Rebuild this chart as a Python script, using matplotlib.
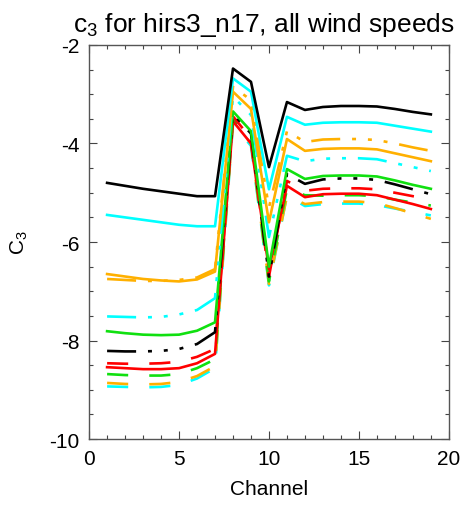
import matplotlib
matplotlib.use("Agg")
import matplotlib.pyplot as plt
from matplotlib.ticker import MultipleLocator

plt.rcParams['font.family'] = ['Liberation Sans', 'DejaVu Sans']
plt.rcParams['mathtext.default'] = 'regular'
plt.rcParams['axes.unicode_minus'] = False

channels = list(range(1, 20))

black_solid = [-4.80, -4.86, -4.92, -4.97, -5.02, -5.07, -5.07, -2.48, -2.75, -4.48,
               -3.16, -3.32, -3.26, -3.24, -3.24, -3.25, -3.30, -3.36, -3.41]
cyan_solid = [-5.45, -5.50, -5.55, -5.60, -5.65, -5.68, -5.68, -2.68, -2.95, -4.93,
              -3.46, -3.62, -3.58, -3.57, -3.57, -3.58, -3.64, -3.70, -3.76]
orange_dashdot = [-6.75, -6.77, -6.79, -6.79, -6.77, -6.72, -6.55, -2.85, -3.12, -5.30,
                  -3.75, -3.97, -3.92, -3.91, -3.91, -3.93, -4.00, -4.08, -4.15]
orange_solid = [-6.65, -6.70, -6.75, -6.78, -6.80, -6.76, -6.60, -2.95, -3.30, -5.60,
                -3.91, -4.15, -4.11, -4.10, -4.10, -4.12, -4.20, -4.28, -4.36]
cyan_dashdot = [-7.51, -7.52, -7.53, -7.52, -7.47, -7.38, -7.14, -3.05, -3.42, -5.90,
                -4.25, -4.36, -4.31, -4.30, -4.30, -4.32, -4.40, -4.48, -4.56]
green_solid = [-7.81, -7.85, -7.88, -7.89, -7.88, -7.80, -7.63, -3.35, -3.75, -6.50,
               -4.52, -4.72, -4.66, -4.65, -4.65, -4.67, -4.75, -4.84, -4.92]
black_dashdot = [-8.21, -8.22, -8.22, -8.21, -8.17, -8.07, -7.83, -3.40, -3.80, -6.70,
                 -4.62, -4.82, -4.73, -4.71, -4.71, -4.74, -4.83, -4.93, -5.03]
red_dashed = [-8.46, -8.47, -8.47, -8.46, -8.43, -8.33, -8.17, -3.45, -3.90, -6.70,
              -4.76, -4.96, -4.92, -4.91, -4.91, -4.93, -5.00, -5.07, -5.13]
red_solid = [-8.54, -8.56, -8.58, -8.58, -8.56, -8.46, -8.27, -3.55, -4.00, -6.55,
             -4.86, -5.09, -5.03, -5.02, -5.02, -5.05, -5.14, -5.23, -5.33]
green_dashed = [-8.68, -8.70, -8.71, -8.71, -8.68, -8.56, -8.38, -3.50, -3.95, -6.80,
                -4.92, -5.05, -5.06, -5.05, -5.05, -5.07, -5.14, -5.20, -5.26]
orange_dashed = [-8.86, -8.88, -8.89, -8.88, -8.84, -8.72, -8.52, -3.55, -4.00, -6.85,
                 -5.06, -5.23, -5.19, -5.18, -5.18, -5.21, -5.31, -5.42, -5.53]
cyan_dashed = [-8.93, -8.94, -8.95, -8.94, -8.90, -8.77, -8.56, -3.60, -4.05, -6.88,
               -5.06, -5.27, -5.23, -5.22, -5.22, -5.25, -5.32, -5.39, -5.46]

BLACK = 'black'
CYAN = '#00ffff'
ORANGE = '#ffb000'
GREEN = '#10e010'
RED = '#ff0000'

solid = '-'
dashdot3 = (0, (11, 4.5, 1.5, 4.5, 1.5, 4.5, 1.5, 4.5))
dashed = (0, (8, 8))

series = [
    (cyan_dashed, CYAN, dashed),
    (orange_dashed, ORANGE, dashed),
    (green_dashed, GREEN, dashed),
    (red_solid, RED, solid),
    (red_dashed, RED, dashed),
    (black_dashdot, BLACK, dashdot3),
    (green_solid, GREEN, solid),
    (cyan_dashdot, CYAN, dashdot3),
    (orange_solid, ORANGE, solid),
    (orange_dashdot, ORANGE, dashdot3),
    (cyan_solid, CYAN, solid),
    (black_solid, BLACK, solid),
]

fig = plt.figure(figsize=(4.69, 5.10), dpi=100)
ax = fig.add_axes([0.19, 0.137, 0.767, 0.773])

for vals, col, ls in series:
    ax.plot(channels, vals, color=col, linestyle=ls, linewidth=1.9)

ax.set_xlim(0, 20)
ax.set_ylim(-10, -2)
ax.xaxis.set_major_locator(MultipleLocator(5))
ax.xaxis.set_minor_locator(MultipleLocator(1))
ax.yaxis.set_major_locator(MultipleLocator(2))
ax.yaxis.set_minor_locator(MultipleLocator(0.5))
ax.tick_params(which='both', direction='in', top=True, right=True,
               colors='#444444', labelcolor='black', labelsize=15)
ax.tick_params(which='major', length=6, width=0.8, pad=7)
ax.tick_params(which='minor', length=3, width=0.8)
for s in ax.spines.values():
    s.set_color('#555555')
    s.set_linewidth(1.0)

ax.set_title('c$_3$ for hirs3_n17, all wind speeds', fontsize=19, pad=10, x=0.485)
ax.set_xlabel('Channel', fontsize=15, labelpad=8)
ax.set_ylabel('C$_3$', fontsize=15, labelpad=14)

fig.savefig('out.png', dpi=100)
